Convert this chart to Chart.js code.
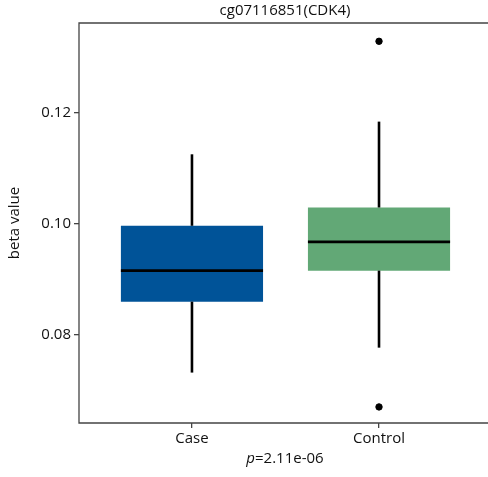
<!DOCTYPE html>
<html>
<head>
<meta charset="utf-8">
<script src="https://cdn.jsdelivr.net/npm/chart.js@4"></script>
<style>
  html, body { margin: 0; padding: 0; background: #fff; }
  #wrap { width: 488px; height: 477px; }
</style>
</head>
<body>
<div id="wrap"><canvas id="boxChart" width="488" height="477"></canvas></div>
<script>
// values
const groups = ['Case', 'Control'];
const lowerWhisker = [0.0731, 0.0776];
const q1 = [0.0859, 0.0915];
const median = [0.0915, 0.0967];
const q3 = [0.0996, 0.1029];
const upperWhisker = [0.1125, 0.1184];
const outliers = [[], [0.1329, 0.0669]];
const yTicks = [0.08, 0.10, 0.12];
const boxColors = ['#005398', '#62a876'];
const titleText = 'cg07116851(CDK4)';
const pValue = '2.11e-06';

const FONT = "'Open Sans', sans-serif";
const halfWidth = 0.38;

let datasets = [];

// boxes as floating bars
datasets.push({
    type: 'bar',
    data: groups.map((g, i) => ({ x: i + 1, y: [q1[i], q3[i]] })),
    backgroundColor: boxColors,
    borderWidth: 0,
    categoryPercentage: 1,
    barPercentage: 0.76,
    order: 3
});

groups.forEach((g, i) => {
    // whiskers
    datasets.push({
        type: 'line',
        data: [{ x: i + 1, y: q3[i] }, { x: i + 1, y: upperWhisker[i] }],
        borderColor: '#000', borderWidth: 2.6, pointRadius: 0, order: 2
    });
    datasets.push({
        type: 'line',
        data: [{ x: i + 1, y: lowerWhisker[i] }, { x: i + 1, y: q1[i] }],
        borderColor: '#000', borderWidth: 2.6, pointRadius: 0, order: 2
    });
    // median
    datasets.push({
        type: 'line',
        data: [{ x: i + 1 - halfWidth, y: median[i] }, { x: i + 1 + halfWidth, y: median[i] }],
        borderColor: '#000', borderWidth: 2.8, pointRadius: 0, order: 1
    });
    // outliers
    if (outliers[i].length) {
        datasets.push({
            type: 'scatter',
            data: outliers[i].map(v => ({ x: i + 1, y: v })),
            backgroundColor: '#000', borderColor: '#000',
            pointRadius: 3.2, order: 1
        });
    }
});

// panel border + title + p-value text
const decor = {
    id: 'decor',
    afterDraw(chart) {
        const ctx = chart.ctx;
        const a = chart.chartArea;
        ctx.save();
        ctx.strokeStyle = '#444';
        ctx.lineWidth = 1.3;
        ctx.beginPath();
        ctx.moveTo(488, a.top);
        ctx.lineTo(a.left, a.top);
        ctx.lineTo(a.left, a.bottom);
        ctx.lineTo(488, a.bottom);
        ctx.stroke();

        ctx.fillStyle = '#111';
        ctx.textBaseline = 'middle';
        ctx.textAlign = 'center';
        ctx.font = '15px ' + FONT;
        const cx = 285;
        ctx.fillText(titleText, cx, 11);

        // x title with italic p
        ctx.textAlign = 'left';
        ctx.font = 'italic 15px ' + FONT;
        const pW = ctx.measureText('p').width;
        ctx.font = '15px ' + FONT;
        const restW = ctx.measureText('=' + pValue).width;
        let x0 = cx - (pW + restW) / 2;
        ctx.font = 'italic 15px ' + FONT;
        ctx.fillText('p', x0, 459);
        ctx.font = '15px ' + FONT;
        ctx.fillText('=' + pValue, x0 + pW, 459);
        ctx.restore();
    }
};

const ctx = document.getElementById('boxChart').getContext('2d');
const chart = new Chart(ctx, {
    type: 'bar',
    data: { datasets: datasets },
    options: {
        responsive: false,
        animation: false,
        layout: { padding: { top: 23, right: 0, left: 0, bottom: 0 } },
        plugins: {
            legend: { display: false },
            tooltip: { enabled: false },
            title: { display: false }
        },
        scales: {
            x: {
                type: 'linear',
                offset: false,
                min: 0.396,
                max: 2.556,
                afterBuildTicks: axis => { axis.ticks = [{ value: 1 }, { value: 2 }]; },
                afterFit: axis => { axis.height = 54; },
                ticks: {
                    callback: v => groups[v - 1],
                    color: '#111',
                    font: { family: FONT, size: 15 },
                    padding: 2,
                    autoSkip: false,
                    maxRotation: 0
                },
                grid: { offset: false, drawOnChartArea: false, tickLength: 5, color: '#444', lineWidth: 1.3 },
                border: { display: false }
            },
            y: {
                min: 0.064,
                max: 0.1362,
                afterBuildTicks: axis => { axis.ticks = yTicks.map(v => ({ value: v })); },
                afterFit: axis => { axis.width = 79; },
                ticks: {
                    callback: v => v.toFixed(2),
                    color: '#111',
                    font: { family: FONT, size: 15 },
                    padding: 3
                },
                title: {
                    display: true,
                    text: 'beta value',
                    color: '#111',
                    font: { family: FONT, size: 15 },
                    padding: { top: 6, bottom: 6 }
                },
                grid: { drawOnChartArea: false, tickLength: 5, color: '#444', lineWidth: 1.3 },
                border: { display: false }
            }
        }
    },
    plugins: [decor]
});
</script>
</body>
</html>
